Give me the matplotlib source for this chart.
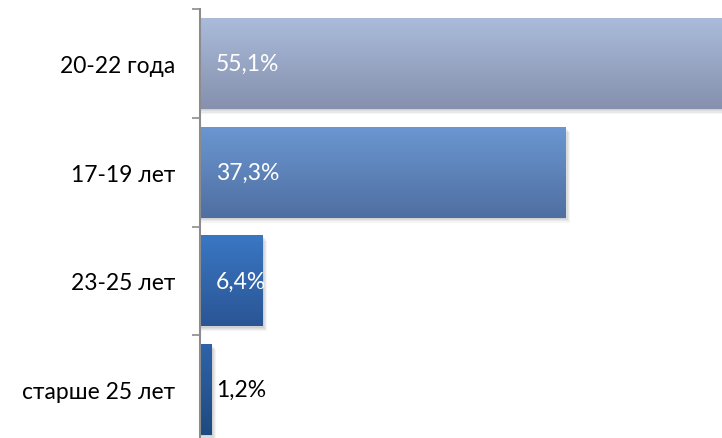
import numpy as np
import matplotlib.pyplot as plt
from matplotlib.patches import Rectangle
from matplotlib.colors import LinearSegmentedColormap

plt.rcParams['font.family'] = ['Lato', 'DejaVu Sans']

categories = ["20-22 года", "17-19 лет", "23-25 лет", "старше 25 лет"]
values = [55.1, 37.3, 6.4, 1.2]
labels = ["55,1%", "37,3%", "6,4%", "1,2%"]
# top / bottom colours of each bar gradient
top_colors = ["#aabbdb", "#6b96d1", "#3a77c3", "#2e63a9"]
bottom_colors = ["#8591ad", "#4f6fa1", "#2a5595", "#1f4a80"]
label_colors = ["white", "white", "white", "black"]

fig = plt.figure(figsize=(7.22, 4.39), dpi=100)
ax = fig.add_axes([200 / 722, -6 / 439, 522 / 722, 435 / 439])

bar_h = 0.835
for i, v in enumerate(values):
    y0 = i - bar_h / 2
    # soft shadow
    for k, a in enumerate([0.05, 0.05, 0.05, 0.04]):
        dx = 0.12 * (k + 1)
        dy = 0.012 * (k + 1)
        ax.add_patch(Rectangle((0, y0 + dy), v + dx, bar_h, color="black",
                               alpha=a, lw=0, zorder=1))
    cmap = LinearSegmentedColormap.from_list("g", [top_colors[i], bottom_colors[i]])
    grad = np.linspace(0, 1, 100).reshape(-1, 1)
    im = ax.imshow(grad, cmap=cmap, aspect="auto",
                   extent=[0, v, y0 + bar_h, y0], zorder=2)
    r = Rectangle((0, y0), v, bar_h, fc="none", lw=0, zorder=2)
    ax.add_patch(r)
    im.set_clip_path(r)
    ax.text(1.6, i, labels[i], color=label_colors[i], fontsize=16.5,
            va="center", ha="left", zorder=3)

ax.set_xlim(0, 522 / 9.79)
ax.set_ylim(len(categories) - 0.5, -0.5)
ax.set_yticks(np.arange(len(categories) + 1) - 0.5, minor=False)
ax.set_yticklabels([])
ax.set_yticks(np.arange(len(categories)), minor=True)
ax.set_yticklabels(categories, minor=True, fontsize=16.5)
ax.tick_params(axis="y", which="major", length=6, width=1.2, color="#8c8c8c")
ax.tick_params(axis="y", which="minor", length=0, pad=18)
ax.set_xticks([])
for s in ["top", "right", "bottom"]:
    ax.spines[s].set_visible(False)
ax.spines["left"].set_color("#8c8c8c")
ax.spines["left"].set_linewidth(1.5)

fig.savefig("out.png", dpi=100)
